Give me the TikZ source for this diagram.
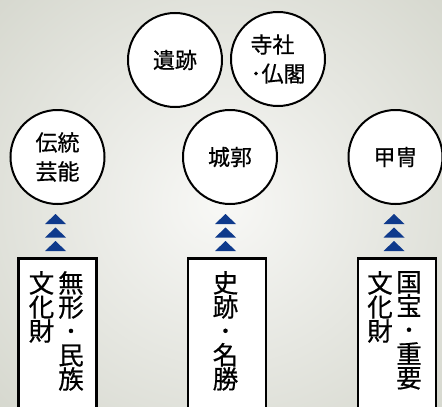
\documentclass[tikz,border=0pt]{standalone}
\usepackage{fontspec}
\setmainfont[FakeBold=0.6]{Noto Sans CJK JP}
\usetikzlibrary{calc}
\definecolor{navy}{HTML}{0F3A8C}
\definecolor{bgedge}{HTML}{D3D5CB}
\definecolor{bgmid}{HTML}{F8F8F6}
\tikzset{
  topic/.style={circle, draw=black, line width=2pt, fill=white, minimum size=94pt, inner sep=0pt,
    font=\fontsize{22}{29}\selectfont, align=center},
  catbox/.style={rectangle, draw=black, line width=2.6pt, fill=white, minimum width=78pt,
    minimum height=170pt, anchor=north, inner sep=0pt},
  vcol/.style={anchor=north, inner sep=0pt, align=center, font=\fontsize{25.5}{24}\selectfont},
  tri/.style={fill=navy}
}
\newcommand{\triup}[1]{%
  \fill[tri] ($(#1)+(-10.5,0)$) -- ($(#1)+(10.5,0)$) -- ($(#1)+(0,-10)$) -- cycle;}
\begin{document}
\begin{tikzpicture}[x=1pt,y=-1pt]
\useasboundingbox (0,0) rectangle (442,407);
\fill[bgedge] (0,0) rectangle (442,407);
\shade[inner color=bgmid, outer color=bgedge] (-120,-120) rectangle (562,527);

% circles
\node[topic] (iseki) at (175,60) {遺跡};
\node[topic, align=left] (jisha) at (278,59) {寺社\\･仏閣};
\node[topic] (dento) at (57.5,157) {伝統\\芸能};
\node[topic] (jokaku) at (230,157) {城郭};
\node[topic] (kacchu) at (395.5,157) {甲冑};

% boxes
\node[catbox] (boxL) at (57.5,257) {};
\node[catbox] (boxM) at (227,257) {};
\node[catbox] (boxR) at (397,257) {};

% vertical texts
\node[vcol] (tL1) at ($(boxL.north)+(13.5,14)$) {無\\形\\･\\民\\族};
\node[vcol] (tL2) at ($(boxL.north)+(-16,14)$) {文\\化\\財};
\node[vcol] (tM1) at ($(boxM.north)+(-1.5,14)$) {史\\跡\\･\\名\\勝};
\node[vcol] (tR1) at ($(boxR.north)+(12,14)$) {国\\宝\\･\\重\\要};
\node[vcol] (tR2) at ($(boxR.north)+(-17,14)$) {文\\化\\財};

% triple arrowheads from boxes up to circles
\coordinate (aL) at ($(boxL.north)+(-2,-6)$);
\coordinate (aM) at ($(boxM.north)+(-1.5,-6)$);
\coordinate (aR) at ($(boxR.north)+(-3,-6)$);
\foreach \c in {aL,aM,aR}{
  \triup{\c}
  \triup{$(\c)+(0,-13.5)$}
  \triup{$(\c)+(0,-27)$}
}
\end{tikzpicture}
\end{document}
